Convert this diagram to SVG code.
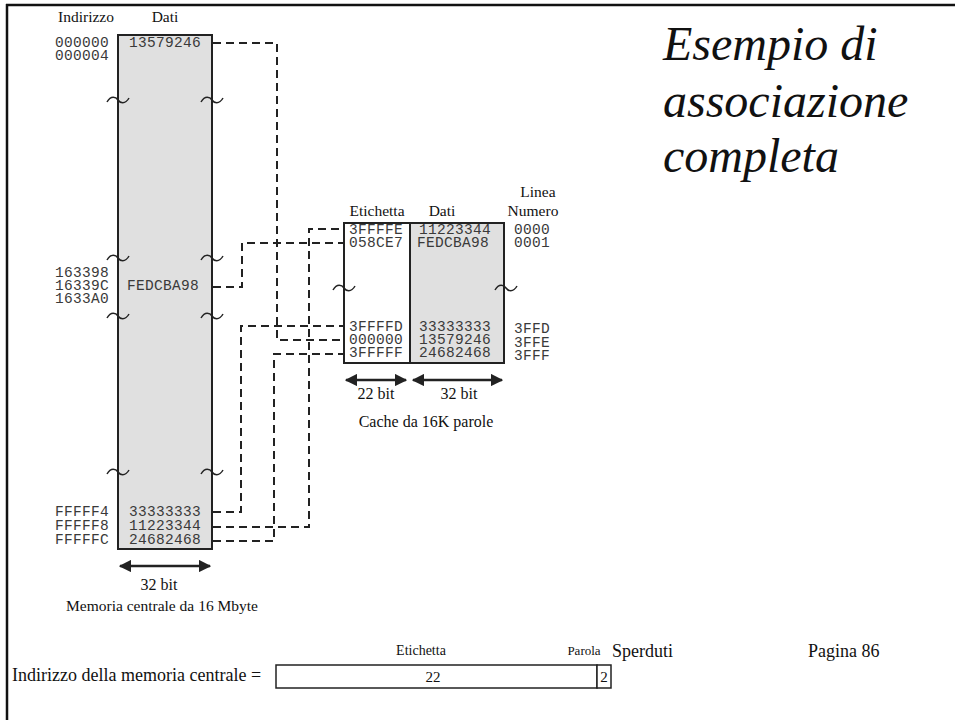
<svg xmlns="http://www.w3.org/2000/svg" width="955" height="720" viewBox="0 0 955 720">
<defs>
<style>
.serif{font-family:"Liberation Serif","Times New Roman",serif;fill:#111}
.mono{font-family:"Liberation Mono","Courier New",monospace;font-size:14.5px;letter-spacing:0.3px;fill:#3a3a3a}
.box{stroke:#222;stroke-width:2}
.conn{fill:none;stroke:#222;stroke-width:2;stroke-dasharray:8 5}
.tilde{fill:none;stroke:#222;stroke-width:1.5}
.dim{stroke:#222;stroke-width:2.5;fill:none}
</style>
<marker id="ah" viewBox="0 0 10 10" refX="9" refY="5" markerWidth="5" markerHeight="5" orient="auto-start-reverse" markerUnits="strokeWidth">
<path d="M0 0 L10 5 L0 10 z" fill="#222"/>
</marker>
<path id="tl" d="M -11 2 C -7 -5 -2 -3 0 0 C 2 3 7 5 11 -2"/>
</defs>
<rect width="955" height="720" fill="#fff"/>
<g id="frame">
<line x1="6" y1="5" x2="955" y2="5" stroke="#111" stroke-width="2.5"/>
<line x1="7" y1="4" x2="7" y2="720" stroke="#111" stroke-width="2.5"/>
</g>
<g id="title" class="serif" font-style="italic" font-size="48">
<text x="663" y="60">Esempio di</text>
<text x="663" y="117">associazione</text>
<text x="663" y="172">completa</text>
</g>
<g id="connectors">
<path class="conn" d="M 213 43 H 277 V 340 H 343"/>
<path class="conn" d="M 213 287 H 242 V 243 H 343"/>
<path class="conn" d="M 213 512 H 241 V 326 H 343"/>
<path class="conn" d="M 213 527 H 309 V 229 H 343"/>
<path class="conn" d="M 213 541 H 274 V 354 H 343"/>
</g>
<g id="memoria">
<text class="serif" x="86" y="22" font-size="15.5" text-anchor="middle">Indirizzo</text>
<text class="serif" x="165" y="22" font-size="15.5" text-anchor="middle">Dati</text>
<rect class="box" x="118" y="35" width="94" height="514" fill="#e0e0e0"/>
<g class="mono">
<text x="55" y="47">000000<tspan x="55" dy="13">000004</tspan></text>
<text x="55" y="277">163398<tspan x="55" dy="13">16339C</tspan><tspan x="55" dy="13">1633A0</tspan></text>
<text x="55" y="516">FFFFF4<tspan x="55" dy="14">FFFFF8</tspan><tspan x="55" dy="14">FFFFFC</tspan></text>
<text x="129" y="47">13579246</text>
<text x="127" y="290">FEDCBA98</text>
<text x="129" y="516">33333333<tspan x="129" dy="14">11223344</tspan><tspan x="129" dy="14">24682468</tspan></text>
</g>
<use href="#tl" class="tilde" x="118" y="100"/>
<use href="#tl" class="tilde" x="212" y="100"/>
<use href="#tl" class="tilde" x="118" y="258"/>
<use href="#tl" class="tilde" x="212" y="258"/>
<use href="#tl" class="tilde" x="118" y="316"/>
<use href="#tl" class="tilde" x="212" y="316"/>
<use href="#tl" class="tilde" x="118" y="472"/>
<use href="#tl" class="tilde" x="212" y="472"/>
<line class="dim" x1="120" y1="566" x2="210" y2="566" marker-start="url(#ah)" marker-end="url(#ah)"/>
<text class="serif" x="159" y="590" font-size="16" text-anchor="middle">32 bit</text>
<text class="serif" x="162" y="611" font-size="15.5" text-anchor="middle">Memoria centrale da 16 Mbyte</text>
</g>
<g id="cache">
<text class="serif" x="377" y="216" font-size="15.5" text-anchor="middle">Etichetta</text>
<text class="serif" x="442" y="216" font-size="15.5" text-anchor="middle">Dati</text>
<text class="serif" x="538" y="197" font-size="15.5" text-anchor="middle">Linea</text>
<text class="serif" x="533" y="216" font-size="15.5" text-anchor="middle">Numero</text>
<rect class="box" x="344" y="223" width="66" height="140" fill="#fff"/>
<rect class="box" x="410" y="223" width="94" height="140" fill="#e0e0e0"/>
<g class="mono">
<text x="349" y="234">3FFFFE<tspan x="349" dy="13">058CE7</tspan></text>
<text x="349" y="331">3FFFFD<tspan x="349" dy="13">000000</tspan><tspan x="349" dy="13">3FFFFF</tspan></text>
<text x="419" y="234">11223344<tspan x="417" dy="13">FEDCBA98</tspan></text>
<text x="419" y="331">33333333<tspan x="419" dy="13">13579246</tspan><tspan x="419" dy="13">24682468</tspan></text>
<text x="514" y="234">0000<tspan x="514" dy="13">0001</tspan></text>
<text x="514" y="333">3FFD<tspan x="514" dy="13.5">3FFE</tspan><tspan x="514" dy="13.5">3FFF</tspan></text>
</g>
<use href="#tl" class="tilde" x="344" y="288"/>
<use href="#tl" class="tilde" x="506" y="288"/>
<line class="dim" x1="346" y1="380" x2="406" y2="380" marker-start="url(#ah)" marker-end="url(#ah)"/>
<line class="dim" x1="413" y1="380" x2="502" y2="380" marker-start="url(#ah)" marker-end="url(#ah)"/>
<text class="serif" x="376" y="399" font-size="16" text-anchor="middle">22 bit</text>
<text class="serif" x="459" y="399" font-size="16" text-anchor="middle">32 bit</text>
<text class="serif" x="426" y="427" font-size="16" text-anchor="middle">Cache da 16K parole</text>
</g>
<g id="indirizzo">
<text class="serif" x="12" y="681" font-size="18">Indirizzo della memoria centrale =</text>
<text class="serif" x="421" y="655" font-size="14" text-anchor="middle">Etichetta</text>
<text class="serif" x="584" y="655" font-size="13" text-anchor="middle">Parola</text>
<rect x="276" y="665" width="321" height="23" fill="#fff" stroke="#222" stroke-width="1.5"/>
<rect x="597" y="665" width="14" height="23" fill="#fff" stroke="#222" stroke-width="1.5"/>
<text class="serif" x="433" y="682" font-size="15" text-anchor="middle">22</text>
<text class="serif" x="604" y="682" font-size="15" text-anchor="middle">2</text>
</g>
<g id="footer" class="serif" font-size="18">
<text x="612" y="657">Sperduti</text>
<text x="808" y="657">Pagina 86</text>
</g>
</svg>
